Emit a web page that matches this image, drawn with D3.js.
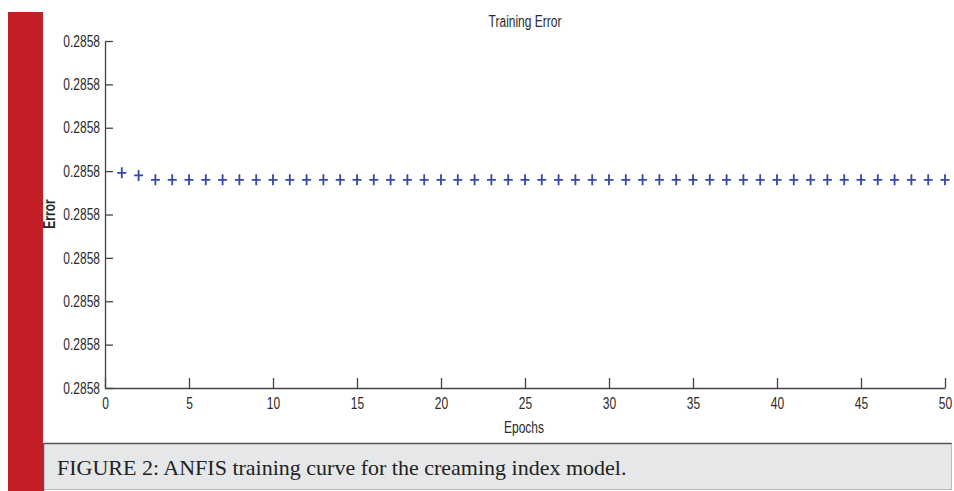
<!DOCTYPE html>
<html>
<head>
<meta charset="utf-8">
<script src="https://cdn.jsdelivr.net/npm/d3@7"></script>
<style>
  body { margin: 0; background: #fff; }
  .axis text { font-family: "Liberation Sans", Arial, sans-serif; font-size: 16px; fill: #2a2a2a; }
  .axis path, .axis line { stroke: #444; stroke-width: 1.3px; }
  .lbl { font-family: "Liberation Sans", Arial, sans-serif; font-size: 16px; fill: #2a2a2a; }
</style>
</head>
<body>
<div id="viz"></div>
<script>
// chart data
var epochs = d3.range(1, 51);
var errors = [0.2858048, 0.2858045].concat(Array(48).fill(0.285804));
var yTicks = [0.28578, 0.285785, 0.28579, 0.285795, 0.2858, 0.285805, 0.28581, 0.285815, 0.28582];
var xTicks = [0, 5, 10, 15, 20, 25, 30, 35, 40, 45, 50];
var titleText = 'Training Error';
var xLabel = 'Epochs';
var yLabel = 'Error';
var caption = 'FIGURE 2: ANFIS training curve for the creaming index model.';

var svg = d3.select('#viz').append('svg')
  .attr('width', 954)
  .attr('height', 491);

// red side bar and caption box
svg.append('rect').attr('x', 8).attr('y', 12).attr('width', 35).attr('height', 479).attr('fill', '#c41e26');
svg.append('rect').attr('x', 43.5).attr('y', 443.5).attr('width', 908).attr('height', 46)
  .attr('fill', '#e6e7e9').attr('stroke', '#bbb').attr('stroke-width', 1);
svg.append('line').attr('x1', 43.5).attr('x2', 951.5).attr('y1', 443.5).attr('y2', 443.5).attr('stroke', '#555').attr('stroke-width', 1.5);
svg.append('line').attr('x1', 43.5).attr('x2', 43.5).attr('y1', 443.5).attr('y2', 491).attr('stroke', '#555').attr('stroke-width', 1.5);
svg.append('text')
  .attr('x', 57).attr('y', 475)
  .attr('font-family', '"Liberation Serif", "DejaVu Serif", serif')
  .attr('font-size', '22px')
  .attr('fill', '#222')
  .text(caption);

// plot area
var plotLeft = 105, plotRight = 945, plotTop = 41, plotBottom = 388;
var x = d3.scaleLinear().domain([0, 50]).range([plotLeft, plotRight]);
var y = d3.scaleLinear().domain([yTicks[0], yTicks[yTicks.length - 1]]).range([plotBottom, plotTop]);

// narrow look of the original font
var squeeze = 0.75;

svg.append('g')
  .attr('class', 'axis')
  .attr('transform', 'translate(0,' + plotBottom + ')')
  .call(d3.axisBottom(x).tickValues(xTicks).tickSizeInner(-10).tickSizeOuter(0))
  .call(function (g) {
    g.selectAll('text').attr('y', 10).attr('dy', '0.71em').attr('transform', 'scale(' + squeeze + ',1)');
  });

svg.append('g')
  .attr('class', 'axis')
  .attr('transform', 'translate(' + plotLeft + ',0)')
  .call(d3.axisLeft(y).tickValues(yTicks).tickFormat(d3.format('.4f')).tickSizeInner(-8).tickSizeOuter(0))
  .call(function (g) {
    g.selectAll('text').attr('x', -5 / squeeze).attr('transform', 'scale(' + squeeze + ',1)');
    g.selectAll('.tick line').attr('x1', 0).attr('x2', 8);
  });

// plus markers
var plus = 'M-4.5,0H4.5M0,-5.5V5.5';
svg.append('g').selectAll('path')
  .data(epochs)
  .enter()
  .append('path')
  .attr('d', plus)
  .attr('transform', function (d, i) { return 'translate(' + x(d) + ',' + y(errors[i]) + ')'; })
  .attr('stroke', '#3548a8')
  .attr('stroke-width', 1.8)
  .attr('fill', 'none');

// titles
function label(txt, px, py, rot) {
  return svg.append('g')
    .attr('transform', 'translate(' + px + ',' + py + ')' + (rot ? ' rotate(' + rot + ')' : ''))
    .append('text').attr('class', 'lbl')
    .attr('text-anchor', 'middle')
    .attr('dy', '0.35em')
    .attr('transform', 'scale(' + squeeze + ',1)')
    .text(txt);
}
label(titleText, 525, 21);
label(xLabel, 524, 427);
label(yLabel, 49, 214, -90).style('font-weight', 'bold');
</script>
</body>
</html>
